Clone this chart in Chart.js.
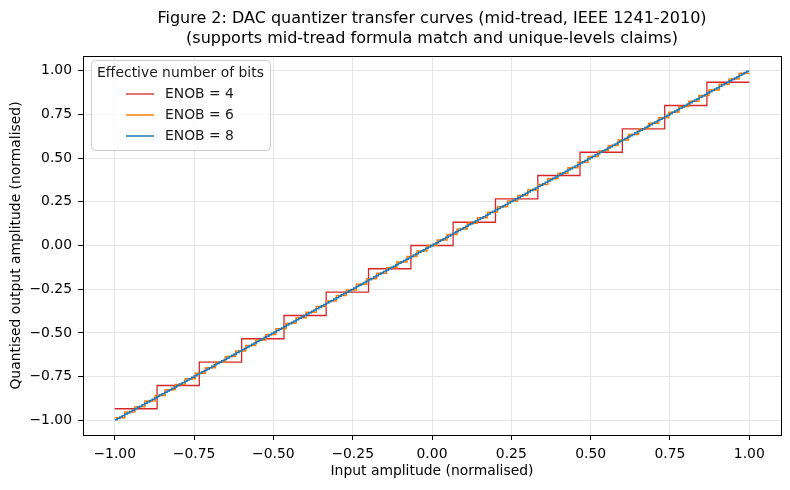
<!DOCTYPE html>
<html>
<head>
<meta charset="utf-8">
<script src="https://cdn.jsdelivr.net/npm/chart.js@4.4.1/dist/chart.umd.min.js"></script>
<style>
  html, body { margin: 0; padding: 0; background: #fff; }
  #wrap { width: 790px; height: 490px; }
</style>
</head>
<body>
<div id="wrap"><canvas id="chart" width="790" height="490"></canvas></div>
<script>
// input span of the transfer curves
var inputMin = -1.0;
var inputMax = 1.0;

var titleLines = ['Figure 2: DAC quantizer transfer curves (mid-tread, IEEE 1241-2010)',
                  '(supports mid-tread formula match and unique-levels claims)'];
var legendTitle = 'Effective number of bits';
var seriesLabels = ['ENOB = 4', 'ENOB = 6', 'ENOB = 8'];
var seriesColors = ['#d62728', '#ff7f0e', '#1f77b4'];

// output levels of each quantizer (mid-tread)
var levels4 = [-0.933, -0.8, -0.667, -0.533, -0.4, -0.267, -0.133, 0,
  0.133, 0.267, 0.4, 0.533, 0.667, 0.8, 0.933];

var levels6 = [-0.984, -0.952, -0.921, -0.889, -0.857, -0.825, -0.794, -0.762,
  -0.730, -0.698, -0.667, -0.635, -0.603, -0.571, -0.540, -0.508, -0.476, -0.444,
  -0.413, -0.381, -0.349, -0.317, -0.286, -0.254, -0.222, -0.190, -0.159, -0.127,
  -0.095, -0.063, -0.032, 0,
  0.032, 0.063, 0.095, 0.127, 0.159, 0.190, 0.222, 0.254, 0.286, 0.317, 0.349,
  0.381, 0.413, 0.444, 0.476, 0.508, 0.540, 0.571, 0.603, 0.635, 0.667, 0.698,
  0.730, 0.762, 0.794, 0.825, 0.857, 0.889, 0.921, 0.952, 0.984];

var levels8 = [-0.996, -0.988, -0.980, -0.973, -0.965, -0.957, -0.949, -0.941,
  -0.933, -0.925, -0.918, -0.910, -0.902, -0.894, -0.886, -0.878, -0.871, -0.863,
  -0.855, -0.847, -0.839, -0.831, -0.824, -0.816, -0.808, -0.800, -0.792, -0.784,
  -0.776, -0.769, -0.761, -0.753, -0.745, -0.737, -0.729, -0.722, -0.714, -0.706,
  -0.698, -0.690, -0.682, -0.675, -0.667, -0.659, -0.651, -0.643, -0.635, -0.627,
  -0.620, -0.612, -0.604, -0.596, -0.588, -0.580, -0.573, -0.565, -0.557, -0.549,
  -0.541, -0.533, -0.525, -0.518, -0.510, -0.502, -0.494, -0.486, -0.478, -0.471,
  -0.463, -0.455, -0.447, -0.439, -0.431, -0.424, -0.416, -0.408, -0.400, -0.392,
  -0.384, -0.376, -0.369, -0.361, -0.353, -0.345, -0.337, -0.329, -0.322, -0.314,
  -0.306, -0.298, -0.290, -0.282, -0.275, -0.267, -0.259, -0.251, -0.243, -0.235,
  -0.227, -0.220, -0.212, -0.204, -0.196, -0.188, -0.180, -0.173, -0.165, -0.157,
  -0.149, -0.141, -0.133, -0.125, -0.118, -0.110, -0.102, -0.094, -0.086, -0.078,
  -0.071, -0.063, -0.055, -0.047, -0.039, -0.031, -0.024, -0.016, -0.008, 0,
  0.008, 0.016, 0.024, 0.031, 0.039, 0.047, 0.055, 0.063, 0.071, 0.078,
  0.086, 0.094, 0.102, 0.110, 0.118, 0.125, 0.133, 0.141, 0.149, 0.157,
  0.165, 0.173, 0.180, 0.188, 0.196, 0.204, 0.212, 0.220, 0.227, 0.235,
  0.243, 0.251, 0.259, 0.267, 0.275, 0.282, 0.290, 0.298, 0.306, 0.314,
  0.322, 0.329, 0.337, 0.345, 0.353, 0.361, 0.369, 0.376, 0.384, 0.392,
  0.400, 0.408, 0.416, 0.424, 0.431, 0.439, 0.447, 0.455, 0.463, 0.471,
  0.478, 0.486, 0.494, 0.502, 0.510, 0.518, 0.525, 0.533, 0.541, 0.549,
  0.557, 0.565, 0.573, 0.580, 0.588, 0.596, 0.604, 0.612, 0.620, 0.627,
  0.635, 0.643, 0.651, 0.659, 0.667, 0.675, 0.682, 0.690, 0.698, 0.706,
  0.714, 0.722, 0.729, 0.737, 0.745, 0.753, 0.761, 0.769, 0.776, 0.784,
  0.792, 0.800, 0.808, 0.816, 0.824, 0.831, 0.839, 0.847, 0.855, 0.863,
  0.871, 0.878, 0.886, 0.894, 0.902, 0.910, 0.918, 0.925, 0.933, 0.941,
  0.949, 0.957, 0.965, 0.973, 0.980, 0.988, 0.996];

var xTicks = [-1.0, -0.75, -0.5, -0.25, 0, 0.25, 0.5, 0.75, 1.0];
var yTicks = [-1.0, -0.75, -0.5, -0.25, 0, 0.25, 0.5, 0.75, 1.0];

var FONT = 'DejaVu Sans';

// each level is held over the inputs closest to it; the step sits halfway
function staircase(levels) {
  var pts = [{x: inputMin, y: levels[0]}];
  levels.forEach(function(v) { pts.push({x: v, y: v}); });
  pts.push({x: inputMax, y: levels[levels.length - 1]});
  return pts;
}

var allLevels = [levels4, levels6, levels8];
var widths = [1.3, 1.5, 1.5];

var datasets = allLevels.map(function(lv, i) {
  return {
    label: seriesLabels[i],
    data: staircase(lv),
    borderColor: seriesColors[i],
    backgroundColor: seriesColors[i],
    borderWidth: widths[i],
    pointRadius: 0,
    stepped: 'middle',
    fill: false,
    order: 3 - i
  };
});

function fmt(v) {
  return v.toFixed(2).replace('-', '\u2212');
}

// title centred over the axes, like matplotlib
var titleBox = {
  id: 'titleBox',
  afterDraw: function(chart) {
    var ctx = chart.ctx;
    var a = chart.chartArea;
    ctx.save();
    ctx.fillStyle = '#000';
    ctx.font = '16px "' + FONT + '"';
    ctx.textAlign = 'center';
    ctx.textBaseline = 'middle';
    titleLines.forEach(function(t, i) {
      ctx.fillText(t, (a.left + a.right) / 2, 19 + i * 20);
    });
    ctx.restore();
  }
};

var legendBox = {
  id: 'legendBox',
  afterDraw: function(chart) {
    var ctx = chart.ctx;
    var a = chart.chartArea;
    var x0 = a.left + 8, y0 = a.top + 4, w = 179, h = 90;
    ctx.save();
    ctx.beginPath();
    ctx.roundRect(x0 + 0.5, y0 + 0.5, w, h, 4);
    ctx.fillStyle = 'rgba(255,255,255,0.8)';
    ctx.fill();
    ctx.strokeStyle = '#cccccc';
    ctx.lineWidth = 1;
    ctx.stroke();
    ctx.fillStyle = '#1a1a1a';
    ctx.font = '13.9px "' + FONT + '"';
    ctx.textBaseline = 'middle';
    ctx.textAlign = 'center';
    ctx.fillText(legendTitle, x0 + w / 2, y0 + 13);
    ctx.textAlign = 'left';
    chart.data.datasets.forEach(function(ds, i) {
      var yy = y0 + 34 + i * 21;
      ctx.strokeStyle = ds.borderColor;
      ctx.lineWidth = ds.borderWidth;
      ctx.beginPath();
      ctx.moveTo(x0 + 35, yy);
      ctx.lineTo(x0 + 63, yy);
      ctx.stroke();
      ctx.fillText(ds.label, x0 + 74, yy);
    });
    ctx.restore();
  }
};

var frame = {
  id: 'frame',
  afterDatasetsDraw: function(chart) {
    var ctx = chart.ctx;
    var a = chart.chartArea;
    ctx.save();
    ctx.strokeStyle = '#000';
    ctx.lineWidth = 1;
    ctx.strokeRect(Math.round(a.left) + 0.5, Math.round(a.top) + 0.5,
      Math.round(a.right - a.left), Math.round(a.bottom - a.top));
    ctx.restore();
  }
};

var ctx = document.getElementById('chart').getContext('2d');
var config = {
  type: 'line',
  data: { datasets: datasets },
  options: {
    responsive: false,
    animation: false,
    layout: { padding: { left: 0, right: 9, top: 56, bottom: 0 } },
    plugins: {
      legend: { display: false },
      tooltip: { enabled: false },
      title: { display: false }
    },
    scales: {
      x: {
        type: 'linear',
        min: -1.1,
        max: 1.1,
        afterBuildTicks: function(s) { s.ticks = xTicks.map(function(v) { return {value: v}; }); },
        afterFit: function(s) { s.height = 55; },
        ticks: {
          color: '#000',
          font: { family: FONT, size: 13.9 },
          padding: 6,
          maxRotation: 0,
          callback: function(v) { return fmt(v); }
        },
        grid: { color: '#e6e6e6', lineWidth: 1, tickLength: 5, tickColor: '#000', tickWidth: 1 },
        border: { display: false },
        title: {
          display: true,
          text: 'Input amplitude (normalised)',
          color: '#000',
          font: { family: FONT, size: 13.9 },
          padding: { top: 0, bottom: 10 }
        }
      },
      y: {
        type: 'linear',
        min: -1.083,
        max: 1.083,
        afterBuildTicks: function(s) { s.ticks = yTicks.map(function(v) { return {value: v}; }); },
        afterFit: function(s) { s.width = 83; },
        ticks: {
          color: '#000',
          font: { family: FONT, size: 13.9 },
          padding: 6,
          callback: function(v) { return fmt(v); }
        },
        grid: { color: '#e6e6e6', lineWidth: 1, tickLength: 5, tickColor: '#000', tickWidth: 1 },
        border: { display: false },
        title: {
          display: true,
          text: 'Quantised output amplitude (normalised)',
          color: '#000',
          font: { family: FONT, size: 13.9 },
          padding: { top: 8, bottom: 0 }
        }
      }
    }
  },
  plugins: [frame, legendBox, titleBox]
};

var chart = new Chart(ctx, config);
</script>
</body>
</html>
